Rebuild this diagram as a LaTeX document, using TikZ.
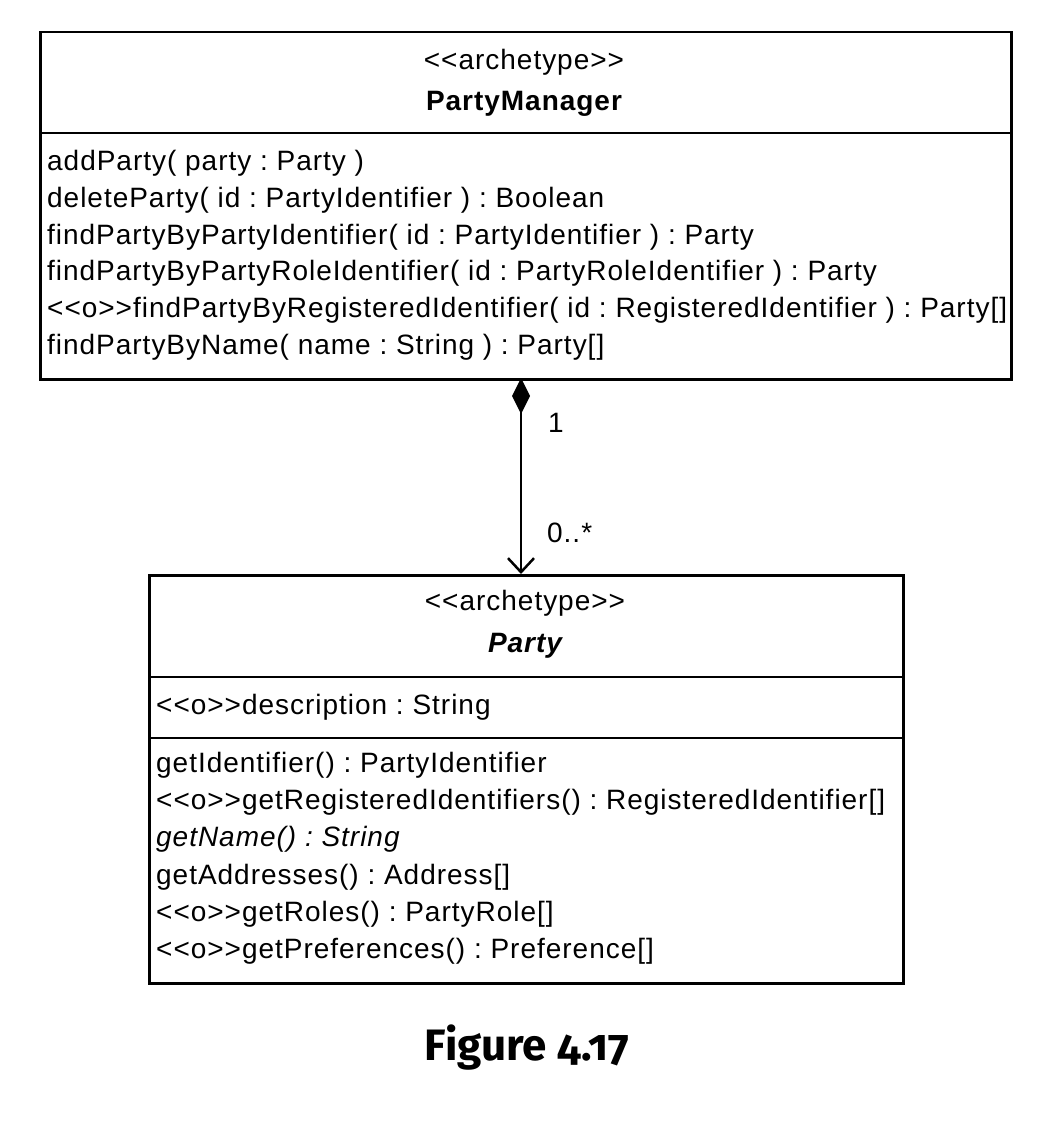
\documentclass[tikz,border=0pt]{standalone}
\usepackage{fontspec}
\setmainfont[LetterSpace=3.5]{Liberation Sans}
\newfontfamily\capfont[Numbers=OldStyle]{Fira Sans}
\usetikzlibrary{arrows.meta}
\frenchspacing
\newcommand{\stl}{<{}<}
\newcommand{\stg}{>{}>}
\tikzset{
  umlbox/.style={draw, line width=2.5pt, inner sep=0pt, anchor=north west},
  sep/.style={line width=2.5pt},
  txt/.style={inner sep=0pt, anchor=west, font=\fontsize{28}{32}\selectfont},
  ctxt/.style={inner sep=0pt, anchor=center, font=\fontsize{28}{32}\selectfont},
  mult/.style={inner sep=0pt, anchor=west, font=\fontsize{28}{32}\selectfont},
  assoc/.style={line width=2.5pt, {Diamond[length=36pt,width=18pt]}-{Straight Barb[length=14pt,width=26pt,line width=2.5pt]}},
}
\begin{document}
\begin{tikzpicture}[x=1pt,y=-1pt]
\useasboundingbox (0,0) rectangle (1052,1124);
% PartyManager box
\node[umlbox, minimum width=971pt, minimum height=347pt] (pm) at (39,31) {};
\draw[sep] (39,133) -- (1010,133);
\node[ctxt] (pms) at (524,62) {\stl archetype\stg};
\node[ctxt, font=\fontsize{28}{32}\selectfont\bfseries] (pmn) at (524,104) {PartyManager};
\node[txt] (m1) at (47,163) {addParty( party : Party )};
\node[txt] (m2) at (47,200) {deleteParty( id : PartyIdentifier ) : Boolean};
\node[txt] (m3) at (47,237) {findPartyByPartyIdentifier( id : PartyIdentifier ) : Party};
\node[txt] (m4) at (47,273) {findPartyByPartyRoleIdentifier( id : PartyRoleIdentifier ) : Party};
\node[txt] (m5) at (47,310) {\stl o\stg findPartyByRegisteredIdentifier( id : RegisteredIdentifier ) : Party[]};
\node[txt] (m6) at (47,347) {findPartyByName( name : String ) : Party[]};
% Party box
\node[umlbox, minimum width=754pt, minimum height=408pt] (pa) at (148,574) {};
\draw[sep] (148,677) -- (902,677);
\draw[sep] (148,738) -- (902,738);
\node[ctxt] (pas) at (525,603) {\stl archetype\stg};
\node[ctxt, font=\fontsize{28}{32}\selectfont\bfseries\itshape] (pan) at (525,646) {Party};
\node[txt] (a1) at (156,707) {\stl o\stg description : String};
\node[txt] (o1) at (156,765) {getIdentifier() : PartyIdentifier};
\node[txt] (o2) at (156,802) {\stl o\stg getRegisteredIdentifiers() : RegisteredIdentifier[]};
\node[txt, font=\fontsize{28}{32}\selectfont\itshape] (o3) at (156,839) {getName() : String};
\node[txt] (o4) at (156,877) {getAddresses() : Address[]};
\node[txt] (o5) at (156,914) {\stl o\stg getRoles() : PartyRole[]};
\node[txt] (o6) at (156,951) {\stl o\stg getPreferences() : Preference[]};
% association
\coordinate (c1) at (521,378);
\coordinate (c2) at (521,574);
\draw[assoc] (c1) -- (c2);
\node[mult] (l1) at (548,423) {1};
\node[mult] (l2) at (547,533) {0..*};
% caption
\node[inner sep=0pt, font=\capfont\bfseries\fontsize{44}{50}\selectfont] (cap) at (527,1048) {Figure 4.17};
\end{tikzpicture}
\end{document}
